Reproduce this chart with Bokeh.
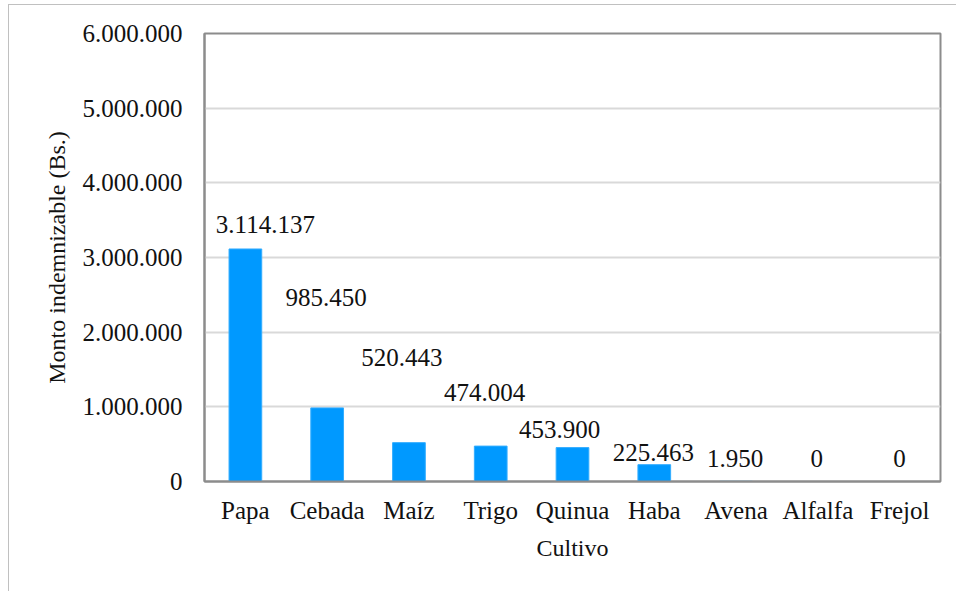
from bokeh.plotting import figure
from bokeh.models import ColumnDataSource, FactorRange, Range1d, FixedTicker
from bokeh.core.properties import value
from bokeh.embed import file_html
from bokeh.resources import INLINE

# ---- data ----
cultivos = ["Papa", "Cebada", "Maíz", "Trigo", "Quinua", "Haba", "Avena", "Alfalfa", "Frejol"]
montos = [3114137, 985450, 520443, 474004, 453900, 225463, 1950, 0, 0]
y_ticks = [0, 1000000, 2000000, 3000000, 4000000, 5000000, 6000000]
y_tick_labels = ["0", "1.000.000", "2.000.000", "3.000.000", "4.000.000", "5.000.000", "6.000.000"]

# label placement (screen px) for the data labels, as in the reference
label_dx = [20, -1, -7, -6, -13, -1, -1, -1, 0]
label_dy = [24, 110, 85, 54, 18, 12, 23, 23, 23]

FONT = "Liberation Serif"
FS = "25px"
labels = [f"{v:,}".replace(",", ".") for v in montos]

src = ColumnDataSource(dict(
    x=cultivos, y=montos, text=labels,
    dx=label_dx, dy=[-d for d in label_dy],
))

p = figure(
    x_range=FactorRange(*cultivos, range_padding=0),
    y_range=Range1d(0, 6000000),
    width=948, height=587,
    output_backend="svg", toolbar_location=None,
    min_border_left=195, min_border_top=28, min_border_right=17, min_border_bottom=111,
)
p.margin = (4, 0, 0, 8)
p.styles = {"border-left": "1px solid #c0c0c0", "border-top": "1px solid #c0c0c0"}

p.vbar(x="x", top="y", width=0.4, source=src, fill_color="#0099ff", line_color="#33adff", line_width=1)
p.text(x="x", y="y", text="text", source=src, x_offset="dx", y_offset="dy",
       text_align="center", text_baseline="middle",
       text_font=value(FONT), text_font_size=FS, text_color="#111111")

p.outline_line_color = "#8c8c8c"
p.outline_line_width = 2
p.background_fill_color = "white"
p.border_fill_color = "white"

p.xgrid.grid_line_color = None
p.ygrid.grid_line_color = "#d9d9d9"
p.ygrid.grid_line_width = 2
p.ygrid.ticker = FixedTicker(ticks=y_ticks)

p.yaxis.ticker = FixedTicker(ticks=y_ticks)
p.yaxis.major_label_overrides = {t: l for t, l in zip(y_ticks, y_tick_labels)}

for ax in (p.xaxis[0], p.yaxis[0]):
    ax.axis_line_color = "#8c8c8c"
    ax.axis_line_width = 2
    ax.major_tick_line_color = None
    ax.minor_tick_line_color = None
    ax.major_tick_out = 0
    ax.major_tick_in = 0
    ax.major_label_text_font = FONT
    ax.major_label_text_font_size = FS
    ax.major_label_text_color = "#111111"
    ax.axis_label_text_font = FONT
    ax.axis_label_text_font_size = "24px"
    ax.axis_label_text_font_style = "normal"
    ax.axis_label_text_color = "#111111"

p.yaxis.axis_label = "Monto indemnizable (Bs.)"
p.xaxis.axis_label = "Cultivo"
p.yaxis.major_label_standoff = 22
p.yaxis.axis_label_standoff = 10
p.xaxis.major_label_standoff = 15
p.xaxis.axis_label_standoff = 8

open("out.html", "w").write(file_html(p, INLINE))
